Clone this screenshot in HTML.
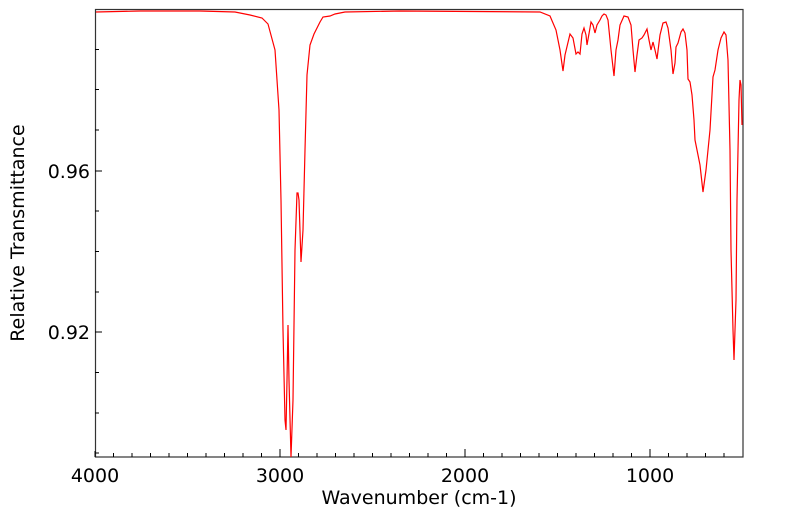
<!DOCTYPE html>
<html><head><style>body{margin:0;background:#fff}svg{display:block}text{font-family:"DejaVu Sans","Liberation Sans",sans-serif;fill:#000}</style></head><body>
<svg width="799" height="516" viewBox="0 0 799 516">
<rect x="95.5" y="9.5" width="647.5" height="447.5" fill="none" stroke="#333" stroke-width="1.2"/>
<g stroke="#000" stroke-width="1">
<path d="M95 457v-6M113.5 457v-4M132 457v-4M150.5 457v-4M169 457v-4M187.5 457v-4M206 457v-4M224.5 457v-4M243 457v-4M261.5 457v-4M280 457v-8M298.5 457v-4M317 457v-4M335.5 457v-4M354 457v-4M372.5 457v-4M391 457v-4M409.5 457v-4M428 457v-4M446.5 457v-4M465 457v-8M483.5 457v-4M502 457v-4M520.5 457v-4M539 457v-4M557.5 457v-4M576 457v-4M594.5 457v-4M613 457v-4M631.5 457v-4M650 457v-8M668.5 457v-4M687 457v-4M705.5 457v-4M724 457v-4"/>
<path d="M95 49.5h4M95 89.5h4M95 130h4M95 171h7M95 211h4M95 251.5h4M95 292h4M95 332h7M95 372.5h4M95 413h4M95 453h4"/>
</g>
<g font-size="19">
<text x="95" y="482" text-anchor="middle">4000</text>
<text x="280" y="482" text-anchor="middle">3000</text>
<text x="465" y="482" text-anchor="middle">2000</text>
<text x="650" y="482" text-anchor="middle">1000</text>
<text x="90" y="178" text-anchor="end">0.96</text>
<text x="90" y="339" text-anchor="end">0.92</text>
<text x="419" y="504" text-anchor="middle">Wavenumber (cm-1)</text>
<text transform="translate(24,233) rotate(-90)" text-anchor="middle">Relative Transmittance</text>
</g>
<polyline fill="none" stroke="#f00" stroke-width="1.2" points="96,12 140,11 200,11 235,12 250,15 262,18 268,24 275,50 279,110 281,200 283,330 285,420 286,430 287,380 288,325 289,380 291,457 293,400 295,250 297,193 298,193 299,200 301,262 303,230 305,150 307,75 310,45 314,34 320,22 323,17 330,16 335,14 345,12 400,11 540,12 550,16 556,30 560,50 563,71 565,55 570,34 573,38 576,54 578,52 580,54 582,34 584,28 586,35 587,45 590,28 591,22 593,25 595,33 597,25 600,20 602,16 604,14 606,15 608,20 611,50 614,76 616,50 618,40 620,25 624,16 628,17 631,25 633,50 635,72 637,55 639,40 642,38 644,35 647,29 649,40 651,50 653,42 655,50 657,59 660,35 663,23 666,22 668,28 671,50 673,74 675,63 676,47 678,43 681,32 683,29 685,33 687,50 688,79 690,82 692,95 694,120 695,140 697,150 700,165 703,192 706,170 710,130 713,77 715,70 718,50 721,38 724,32 726,35 728,60 730,150 731,250 733,330 734,360 736,300 737,200 739,100 740,80 741,85 742,125"/>
</svg>
</body></html>
